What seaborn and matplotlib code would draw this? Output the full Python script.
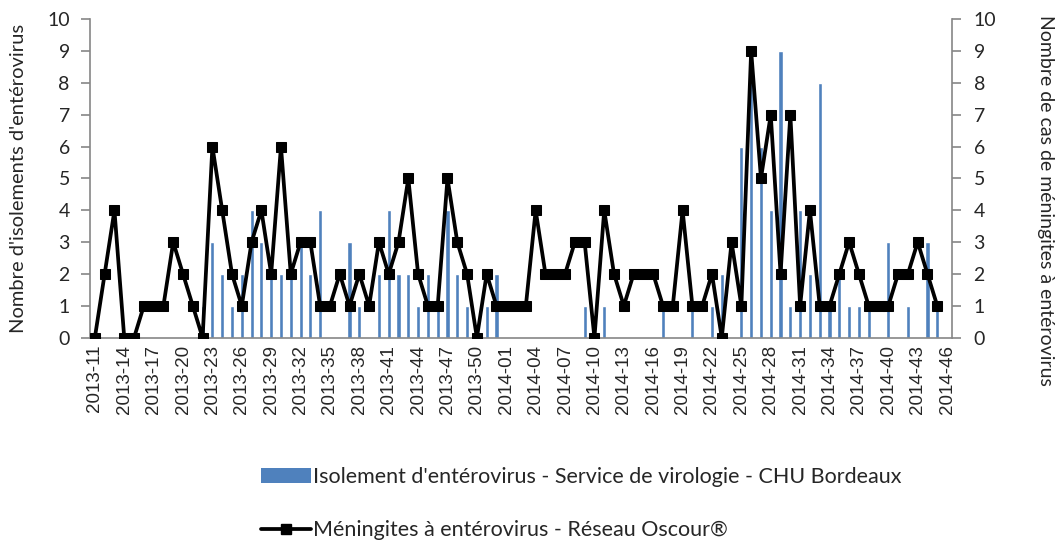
import numpy as np
import pandas as pd
import seaborn as sns
import matplotlib.pyplot as plt
from matplotlib.lines import Line2D
from matplotlib.patches import Patch

# Weeks 2013-11 .. 2014-46
weeks = [f'2013-{w:02d}' for w in range(11, 53)] + [f'2014-{w:02d}' for w in range(1, 47)]

# Isolements d'entérovirus (CHU Bordeaux), one value per week
isolements = [0, 0, 0, 0, 0, 0, 0, 0, 0, 0, 0, 1, 3, 2, 1, 2, 4, 3, 2, 2,
              2, 3, 2, 4, 0, 0, 3, 1, 0, 2, 4, 2, 2, 1, 2, 1, 4, 2, 1, 0,
              1, 2, 0, 0, 0, 0, 0, 0, 0, 0, 1, 0, 1, 0, 0, 0, 0, 0, 1, 0,
              0, 1, 0, 1, 2, 0, 6, 8, 6, 4, 9, 1, 4, 2, 8, 1, 2, 1, 1, 1,
              0, 3, 0, 1, 0, 3, 1, 0]

# Méningites à entérovirus (Réseau Oscour), last week missing
meningites = [0, 2, 4, 0, 0, 1, 1, 1, 3, 2, 1, 0, 6, 4, 2, 1, 3, 4, 2, 6,
              2, 3, 3, 1, 1, 2, 1, 2, 1, 3, 2, 3, 5, 2, 1, 1, 5, 3, 2, 0,
              2, 1, 1, 1, 1, 4, 2, 2, 2, 3, 3, 0, 4, 2, 1, 2, 2, 2, 1, 1,
              4, 1, 1, 2, 0, 3, 1, 9, 5, 7, 2, 7, 1, 4, 1, 1, 2, 3, 2, 1,
              1, 1, 2, 2, 3, 2, 1, np.nan]

df = pd.DataFrame({'semaine': weeks, 'isolements': isolements, 'meningites': meningites})
df['pos'] = np.arange(len(df))

sns.set_style('white')
plt.rcParams['font.family'] = ['Lato', 'DejaVu Sans']

fig = plt.figure(figsize=(10.62, 5.43), dpi=100)
ax = fig.add_axes([0.0847, 0.378, 0.8117, 0.587])

sns.barplot(data=df, x='semaine', y='isolements', color='#4F81BD', width=0.42,
            saturation=1, ax=ax, zorder=1)

ax2 = ax.twinx()
line = df.dropna()
sns.lineplot(data=line, x='pos', y='meningites', color='black', lw=2.7,
             marker='s', markersize=7.5, markeredgecolor='black', ax=ax2)

spine_col = '#868686'
for a in (ax, ax2):
    a.set_ylim(0, 10)
    a.set_yticks(range(0, 11))
    a.set_xlim(-0.5, len(df) - 0.5)
    for s in a.spines.values():
        s.set_color(spine_col)
        s.set_linewidth(1.2)
    a.spines['top'].set_visible(False)
    a.tick_params(axis='y', direction='out', length=6.5, color=spine_col,
                  labelsize=14, width=1.2)

ax.spines['right'].set_visible(False)
ax2.spines['left'].set_visible(False)
ax2.spines['bottom'].set_visible(False)

ax.set_xticks(df['pos'][::3])
ax.set_xticklabels(df['semaine'][::3], rotation=90, family='Liberation Sans', fontsize=13.5)
ax.set_xticks(np.arange(-0.5, len(df), 1), minor=True)
ax.tick_params(axis='x', which='major', length=0, pad=5)
ax.tick_params(axis='x', which='minor', direction='out', length=5, color=spine_col, width=1.2)
ax.tick_params(axis='y', left=True, pad=8)
ax2.tick_params(axis='y', right=True, pad=9)

ax.set_xlabel('')
ax.set_ylabel("Nombre d'isolements d'entérovirus", fontsize=14.5)
ax.yaxis.set_label_coords(-0.073, 0.5)
ax2.set_ylabel('Nombre de cas de méningites à entérovirus', fontsize=14, rotation=270,
               va='center', ha='center')
ax2.yaxis.set_label_coords(1.109, 0.43)
ax2.set_zorder(ax.get_zorder() + 1)
ax2.patch.set_visible(False)

handles = [Patch(facecolor='#4F81BD', edgecolor='none'),
           Line2D([], [], color='black', lw=2.7, marker='s', markersize=6.5)]
labels = ["Isolement d'entérovirus - Service de virologie - CHU Bordeaux",
          'Méningites à entérovirus - Réseau Oscour®']
fig.legend(handles, labels, loc='upper left', bbox_to_anchor=(0.246, 0.14),
           frameon=False, fontsize=15.5, handlelength=2.3, handletextpad=0.1,
           labelspacing=1.55, borderaxespad=0, borderpad=0)

fig.savefig('out.png', dpi=100)
